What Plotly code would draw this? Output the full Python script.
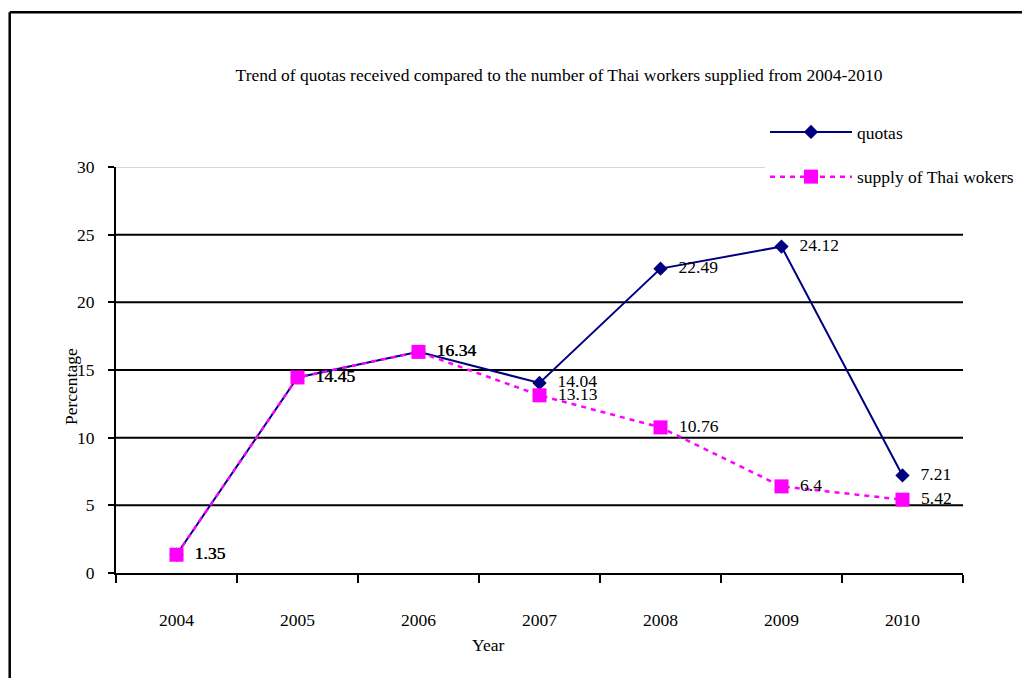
import plotly.graph_objects as go

# Data
years = ["2004", "2005", "2006", "2007", "2008", "2009", "2010"]
quotas = [1.35, 14.45, 16.34, 14.04, 22.49, 24.12, 7.21]
supply = [1.35, 14.45, 16.34, 13.13, 10.76, 6.4, 5.42]
y_ticks = [0, 5, 10, 15, 20, 25, 30]

FONT = "Liberation Serif, Times New Roman, serif"
FS = 17.5
NAVY = "#000080"
MAGENTA = "#FF00FF"

W, H = 1022, 678
L, R, T, B = 116, 59, 167, 105
PW, PH = W - L - R, H - T - B


def px_x(px):
    return (px - L) / PW


def px_y(py):
    return (H - B - py) / PH


fig = go.Figure()

# The diamond is smaller than the square, so a hair space keeps the
# value labels of both series starting at the same x.
fig.add_trace(go.Scatter(
    x=years, y=quotas, name="quotas", legendgroup="q",
    mode="lines+markers+text",
    line=dict(color=NAVY, width=2),
    marker=dict(symbol="diamond", size=11, color=NAVY),
    text=["  \u200a" + str(v) for v in quotas],
    textposition="middle right",
    textfont=dict(family=FONT, size=FS, color="black"),
    cliponaxis=False,
))

fig.add_trace(go.Scatter(
    x=years, y=supply, name="supply of Thai wokers", legendgroup="s",
    mode="lines+markers+text",
    line=dict(color=MAGENTA, width=2.5, dash="5px,5px"),
    marker=dict(symbol="square", size=14, color=MAGENTA),
    text=["  " + str(v) for v in supply],
    textposition="middle right",
    textfont=dict(family=FONT, size=FS, color="black"),
    cliponaxis=False,
))

# Horizontal gridlines: black inside, light grey along the top
shapes = []
for v in y_ticks[1:]:
    shapes.append(dict(
        type="line", xref="paper", yref="y", x0=0, x1=1, y0=v, y1=v,
        line=dict(color="#c8c8c8" if v == y_ticks[-1] else "black",
                  width=1.5 if v == y_ticks[-1] else 2),
        layer="below",
    ))

# Outer frame (top and left edges)
frame_x = px_x(9.7)
frame_y = px_y(12.2)
shapes.append(dict(type="line", xref="paper", yref="paper",
                   x0=frame_x, x1=1.2, y0=frame_y, y1=frame_y,
                   line=dict(color="black", width=2.5)))
shapes.append(dict(type="line", xref="paper", yref="paper",
                   x0=frame_x, x1=frame_x, y0=frame_y, y1=-0.4,
                   line=dict(color="black", width=2.5)))

annotations = [
    dict(text="Percentage", xref="paper", yref="paper",
         x=px_x(71), y=px_y(387), textangle=-90, showarrow=False,
         xanchor="center", yanchor="middle",
         font=dict(family=FONT, size=FS, color="black")),
    dict(text="Year", xref="paper", yref="paper",
         x=px_x(488), y=px_y(645), showarrow=False,
         xanchor="center", yanchor="middle",
         font=dict(family=FONT, size=FS, color="black")),
]

fig.update_layout(
    width=W, height=H,
    margin=dict(l=L, r=R, t=T, b=B, autoexpand=False),
    paper_bgcolor="white", plot_bgcolor="white",
    font=dict(family=FONT, size=FS, color="black"),
    title=dict(
        text="Trend of quotas received compared to the number of Thai workers supplied from 2004-2010",
        x=px_x(559), xanchor="center", xref="paper",
        y=1 - 75 / H, yanchor="middle", yref="container",
        font=dict(family=FONT, size=FS, color="black"),
    ),
    xaxis=dict(
        type="category", range=[-0.5, 6.5],
        showgrid=False, zeroline=False,
        showline=True, linecolor="black", linewidth=2,
        ticks="outside", tickson="boundaries", ticklen=8,
        tickwidth=2, tickcolor="black",
        ticklabelstandoff=30,
        tickfont=dict(family=FONT, size=FS, color="black"),
    ),
    yaxis=dict(
        range=[0, 30], tickvals=y_ticks,
        showgrid=False, zeroline=False,
        showline=True, linecolor="black", linewidth=2,
        ticks="outside", ticklen=6, tickwidth=2, tickcolor="black",
        ticklabelstandoff=10,
        tickfont=dict(family=FONT, size=FS, color="black"),
    ),
    legend=dict(
        x=px_x(765), y=px_y(114), xanchor="left", yanchor="top",
        bgcolor="white", borderwidth=0,
        traceorder="grouped", tracegroupgap=19,
        itemwidth=82,
        font=dict(family=FONT, size=FS, color="black"),
    ),
    shapes=shapes,
    annotations=annotations,
    showlegend=True,
)

fig.write_html("out.html")
